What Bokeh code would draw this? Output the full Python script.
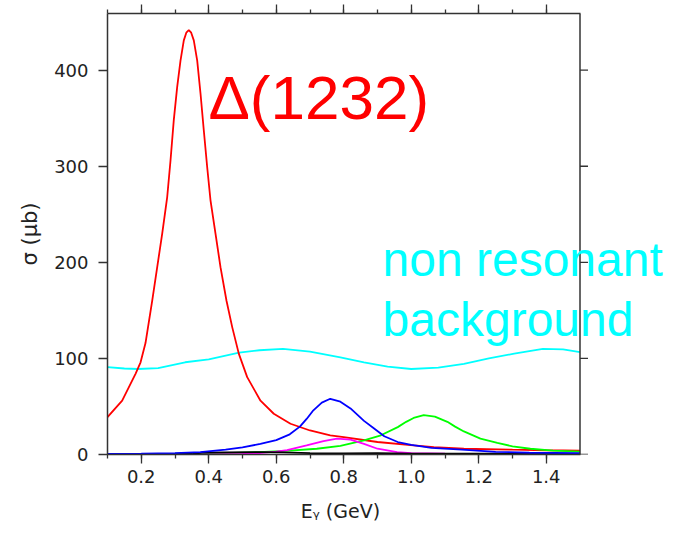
from bokeh.plotting import figure
from bokeh.models import (Range1d, LinearAxis, SingleIntervalTicker, PrintfTickFormatter,
                          CustomJSTickFormatter, FixedTicker, Label, Span)
from bokeh.embed import file_html
from bokeh.resources import INLINE

# ---- data ----
red_e = [0.100, 0.1435, 0.183, 0.198, 0.2126, 0.2324, 0.2473, 0.2621, 0.2769, 0.2867, 0.2964,
         0.3065, 0.3163, 0.3261, 0.3335, 0.3409, 0.348, 0.3557, 0.3658, 0.3756, 0.3853, 0.3954,
         0.4052, 0.42, 0.4348, 0.4526, 0.4695, 0.489, 0.5139, 0.5533, 0.5927, 0.6422, 0.70,
         0.76, 0.80, 0.90, 1.007, 1.067, 1.156, 1.30, 1.40, 1.50]
red_s = [38.9, 56, 84, 96, 116, 160, 195, 230, 268, 306, 348,
         382.6, 410, 431, 439, 441.7, 439, 431, 410, 375.7, 337.5, 299,
         264.6, 230, 195, 160, 132.6, 105, 80.5, 56, 42.4, 32, 25,
         20, 18, 13, 9.4, 7.6, 6, 5, 4.4, 4]

blue_e = [0.10, 0.20, 0.30, 0.375, 0.45, 0.50, 0.553, 0.60, 0.64, 0.67, 0.69, 0.71, 0.735,
          0.76, 0.79, 0.82, 0.86, 0.89, 0.92, 0.96, 1.00, 1.06, 1.15, 1.25, 1.35, 1.50]
blue_s = [0.5, 0.8, 1.5, 2.4, 5, 7.5, 11, 15, 21, 29, 37, 46, 54,
          58, 55, 48, 35, 27, 19, 13, 10, 7, 5, 2.8, 1.8, 1.4]

green_e = [0.10, 0.30, 0.45, 0.55, 0.64, 0.72, 0.79, 0.86, 0.91, 0.96, 0.985, 1.007, 1.037,
           1.07, 1.107, 1.13, 1.156, 1.205, 1.255, 1.30, 1.353, 1.42, 1.50]
green_s = [0.5, 1, 1.5, 2.5, 4, 6, 9, 14.6, 20, 28.5, 34, 38, 41,
           39.5, 34, 29, 24, 16.5, 12, 8.5, 6, 4, 3]

magenta_e = [0.10, 0.40, 0.50, 0.55, 0.60, 0.632, 0.69, 0.74, 0.78, 0.82, 0.86, 0.90, 0.958,
             1.00, 1.10, 1.30, 1.50]
magenta_s = [0, 0.2, 0.5, 1.5, 3, 4.5, 9.4, 14, 16.5, 15.5, 11, 6, 2.4,
             1.5, 0.8, 0.5, 0.3]

black_e = [0.10, 0.35, 0.38, 0.45, 0.55, 0.62, 0.70, 0.80, 0.90, 1.00, 1.10, 1.25, 1.40, 1.50]
black_s = [0, 0.5, 2, 2.2, 2.5, 2.2, 1.5, 1.2, 1.5, 1.0, 0.8, 0.8, 0.5, 0.3]

cyan_e = [0.10, 0.15, 0.19, 0.25, 0.33, 0.40, 0.49, 0.55, 0.62, 0.70, 0.79, 0.86, 0.93,
          1.00, 1.08, 1.156, 1.23, 1.305, 1.39, 1.45, 1.50]
cyan_s = [91, 89.5, 89, 90, 96, 99, 106, 108.5, 110, 107, 101, 96, 91.5,
          89, 90.5, 94.4, 100, 105, 110, 109.5, 106.5]

x_start, x_end = 0.1, 1.5
y_start, y_end = 0, 459
x_major_interval = 0.2
y_major_interval = 100
y_ticks = [0, 100, 200, 300, 400]

x_label_text = "Eᵧ (GeV)"
x_label_pos = 0.79
y_label_text = "σ (μb)"

delta_label = ("Δ(1232)", 0.399, 372)
bg_label_1 = ("non resonant", 0.915, 203)
bg_label_2 = ("background", 0.915, 141)

# ---- figure ----
W, H = 675, 533
left_px, frame_right_px = 107, 675
px_per_unit = 337.5
x_view_end = x_start + (frame_right_px - left_px) / px_per_unit

p = figure(width=W, height=H, output_backend="svg", toolbar_location=None,
           x_range=Range1d(x_start, x_view_end), y_range=Range1d(y_start, y_end),
           min_border_left=left_px, min_border_right=0, min_border_top=13, min_border_bottom=79)
p.outline_line_color = None
p.xgrid.visible = False
p.ygrid.visible = False
p.background_fill_color = "white"
p.border_fill_color = "white"

axis_col = "#333333"
txt_col = "#222222"
tick_font = "DejaVu Sans"

xax = p.xaxis[0]
xax.ticker = SingleIntervalTicker(interval=x_major_interval, num_minor_ticks=2)
xax.formatter = PrintfTickFormatter(format="%.1f")
xax.bounds = (x_start, x_end)
yax = p.yaxis[0]
yax.ticker = SingleIntervalTicker(interval=y_major_interval, num_minor_ticks=0)

top = LinearAxis(ticker=SingleIntervalTicker(interval=x_major_interval, num_minor_ticks=2),
                 formatter=CustomJSTickFormatter(code="return ''"), bounds=(x_start, x_end))
p.add_layout(top, "above")

for ax in (xax, yax, top):
    ax.axis_line_color = axis_col
    ax.axis_line_width = 1.5
    ax.major_tick_line_color = axis_col
    ax.minor_tick_line_color = axis_col
    ax.major_tick_line_width = 1.3
    ax.minor_tick_line_width = 1.3
    ax.major_tick_in = 0
    ax.major_tick_out = 9
    ax.minor_tick_in = 0
    ax.minor_tick_out = 4
    ax.major_label_text_font = tick_font
    ax.major_label_text_font_size = "18px"
    ax.major_label_text_color = txt_col
top.major_label_text_font_size = "1px"
top.major_label_standoff = 0

xax.major_label_standoff = 6
yax.major_label_standoff = 10

# x-axis title drawn as a label-only axis centred under the data part of the frame
lab_ax = LinearAxis(ticker=FixedTicker(ticks=[x_label_pos]),
                    formatter=CustomJSTickFormatter(args=dict(lab=x_label_text), code="return lab"))
lab_ax.axis_line_color = None
lab_ax.major_tick_line_color = None
lab_ax.minor_tick_line_color = None
lab_ax.major_tick_out = 0
lab_ax.major_tick_in = 0
lab_ax.major_label_standoff = 14
lab_ax.major_label_text_font = tick_font
lab_ax.major_label_text_font_size = "19px"
lab_ax.major_label_text_color = txt_col
p.add_layout(lab_ax, "below")

yax.axis_label = y_label_text
yax.axis_label_text_font = tick_font
yax.axis_label_text_font_size = "21px"
yax.axis_label_text_font_style = "normal"
yax.axis_label_text_color = txt_col
yax.axis_label_standoff = 9

# right frame edge at x_end with outward ticks
p.add_layout(Span(location=x_end, dimension="height", line_color=axis_col, line_width=1.5))
p.ray(x=[x_end] * len(y_ticks), y=y_ticks, length=8, length_units="screen", angle=0,
      line_color=axis_col, line_width=1.3)

lw = 1.8
p.line(cyan_e, cyan_s, line_color="#00ffff", line_width=lw)
p.line(red_e, red_s, line_color="#ff0000", line_width=lw)
p.line(green_e, green_s, line_color="#00ff00", line_width=lw)
p.line(magenta_e, magenta_s, line_color="#ff00ff", line_width=lw)
p.line(black_e, black_s, line_color="#000000", line_width=lw)
p.line(blue_e, blue_s, line_color="#0000ff", line_width=lw)

p.add_layout(Label(x=delta_label[1], y=delta_label[2], text=delta_label[0],
                   text_font="Liberation Sans", text_font_size="62px", text_color="#ff0000",
                   text_baseline="alphabetic", text_align="left"))
for t, xx, yy in (bg_label_1, bg_label_2):
    p.add_layout(Label(x=xx, y=yy, text=t, text_font="Liberation Sans", text_font_size="48px",
                       text_color="#00ffff", text_baseline="alphabetic", text_align="left"))

open("out.html", "w").write(file_html(p, INLINE))
